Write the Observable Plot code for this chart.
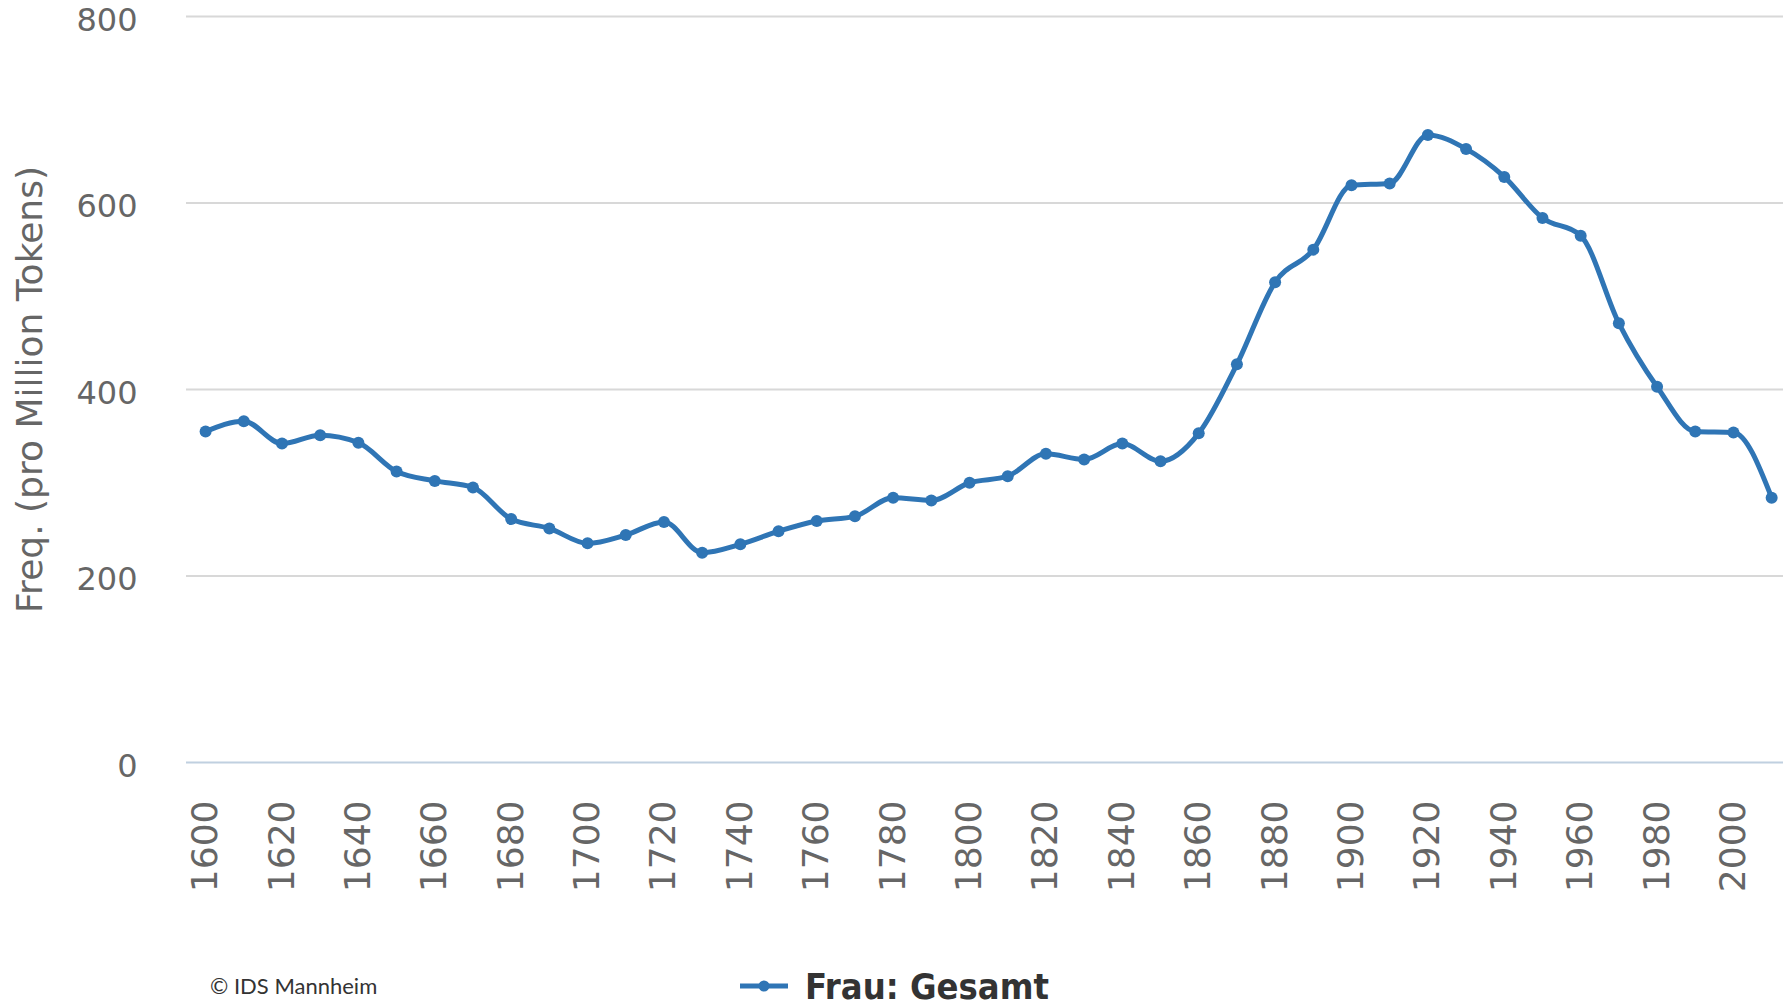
<!DOCTYPE html>
<html>
<head>
<meta charset="utf-8">
<script src="https://cdn.jsdelivr.net/npm/d3@7"></script>
<script src="https://cdn.jsdelivr.net/npm/@observablehq/plot@0.6"></script>
<style>
  html, body { margin: 0; padding: 0; background: #ffffff; }
  body { width: 1783px; height: 1007px; position: relative; overflow: hidden; }
  #chart { position: absolute; left: 0; top: 0; }
  #caption { position: absolute; left: 210px; top: 973px; font-family: Lato, "Noto Sans", sans-serif; font-size: 22px; color: #333; line-height: 26px; }
  #legend { position: absolute; left: 740px; top: 964px; height: 44px; display: flex; align-items: center; }
  #legend span { font-family: "DejaVu Sans Condensed", "DejaVu Sans", sans-serif; font-stretch: condensed; font-weight: bold; font-size: 36px; color: #333; margin-left: 17px; }
</style>
</head>
<body>
<div id="chart"></div>
<div id="caption">© IDS Mannheim</div>
<div id="legend">
  <svg width="48" height="14"><line x1="0" x2="48" y1="7" y2="7" stroke="#2f75b5" stroke-width="5"/><circle cx="24" cy="7" r="5.5" fill="#2f75b5"/></svg>
  <span>Frau: Gesamt</span>
</div>
<script>
const years = [1600, 1610, 1620, 1630, 1640, 1650, 1660, 1670, 1680, 1690,
               1700, 1710, 1720, 1730, 1740, 1750, 1760, 1770, 1780, 1790,
               1800, 1810, 1820, 1830, 1840, 1850, 1860, 1870, 1880, 1890,
               1900, 1910, 1920, 1930, 1940, 1950, 1960, 1970, 1980, 1990,
               2000, 2010];
const freq = [355, 366, 342, 351, 343, 312, 302, 295, 261, 251,
              235, 244, 258, 225, 234, 248, 259, 264, 284, 281,
              300, 307, 331, 325, 342, 323, 353, 427, 515, 550,
              619, 621, 673, 658, 628, 584, 565, 471, 403, 355,
              354, 284];
const xTicks = [1600, 1620, 1640, 1660, 1680, 1700, 1720, 1740, 1760, 1780,
                1800, 1820, 1840, 1860, 1880, 1900, 1920, 1940, 1960, 1980, 2000];
const yTicks = [0, 200, 400, 600, 800];
const gridTicks = [200, 400, 600, 800];
const yTitle = "Freq. (pro Million Tokens)";
const seriesName = "Frau: Gesamt";
const lineColor = "#2f75b5";

const data = years.map((year, i) => ({year, value: freq[i]}));

const chart = Plot.plot({
  width: 1783,
  height: 950,
  marginLeft: 186,
  marginRight: 0,
  marginTop: 16,
  marginBottom: 188,
  x: {domain: [1595, 2013.1], axis: null},
  y: {domain: [0, 800], axis: null},
  style: {fontFamily: "DejaVu Sans, sans-serif", background: "transparent", overflow: "visible"},
  marks: [
    Plot.ruleY(gridTicks, {stroke: "#d8d8d8", strokeWidth: 2}),
    Plot.ruleY([0], {stroke: "#c0d0e0", strokeWidth: 2}),
    Plot.axisY(yTicks, {tickSize: 0, tickPadding: 49, dy: 4, fontSize: 32, fill: "#666", label: null, tickFormat: d => String(d)}),
    Plot.axisX(xTicks, {tickSize: 0, tickPadding: 38, tickRotate: -90, fontSize: 36, fill: "#666", label: null, tickFormat: d => String(d)}),
    Plot.text([yTitle], {frameAnchor: "left", textAnchor: "middle", dx: -156, rotate: -90, fontSize: 36, fill: "#666"}),
    Plot.line(data, {x: "year", y: "value", curve: "monotone-x", stroke: lineColor, strokeWidth: 5}),
    Plot.dot(data, {x: "year", y: "value", r: 6, fill: lineColor})
  ]
});
document.getElementById("chart").appendChild(chart);
</script>
</body>
</html>
